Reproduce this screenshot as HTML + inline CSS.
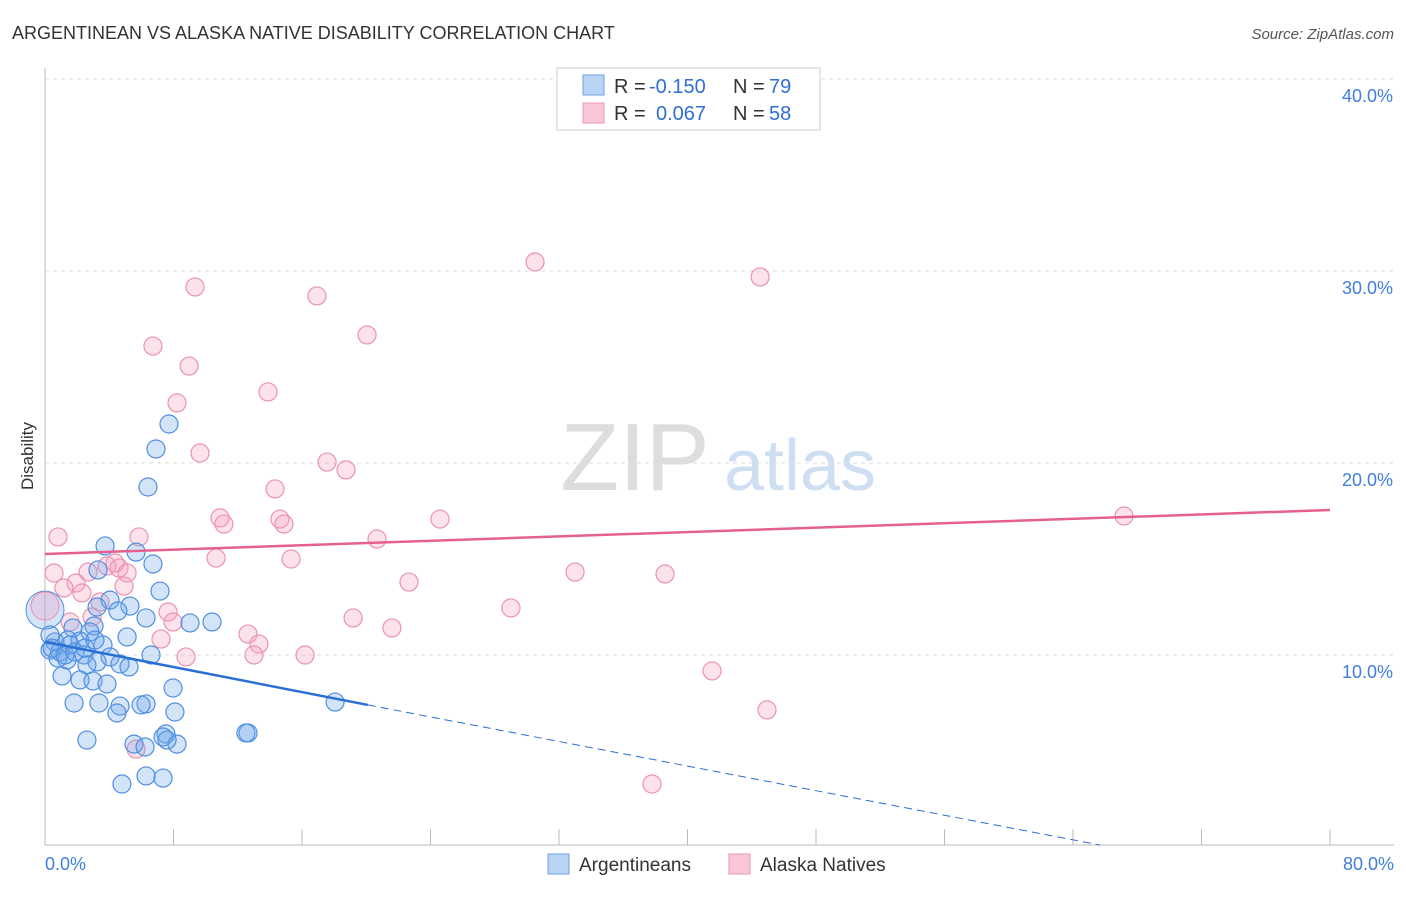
<!DOCTYPE html>
<html><head><meta charset="utf-8"><style>
body{margin:0;background:#fff;font-family:"Liberation Sans",sans-serif;}
svg text{font-family:"Liberation Sans",sans-serif;}
</style></head><body>
<svg id="chart" width="1406" height="892" viewBox="0 0 1406 892" xmlns="http://www.w3.org/2000/svg">
<text x="12" y="39" font-size="18" fill="#333">ARGENTINEAN VS ALASKA NATIVE DISABILITY CORRELATION CHART</text>
<text x="1394" y="39" font-size="15" fill="#555" font-style="italic" text-anchor="end">Source: ZipAtlas.com</text>
<text x="33" y="456" font-size="17" fill="#333" transform="rotate(-90 33 456)" text-anchor="middle">Disability</text>
<g><text x="635" y="490" font-size="96" fill="#ddd" font-family="Liberation Serif" text-anchor="middle">ZIP</text><text x="800" y="490" font-size="72" fill="#cfdff3" text-anchor="middle">atlas</text></g>
<g id="grid"></g><g id="axes"></g><g id="pts"></g><g id="trends"></g>
<g>
<rect x="557" y="68" width="263" height="62" fill="#fff" stroke="#ccc"/>
<rect x="583" y="75" width="21" height="20" fill="#b8d3f3" stroke="#6fa2e3"/>
<rect x="583" y="103" width="21" height="20" fill="#f9c6d6" stroke="#ec97b3"/>
<text x="614" y="93" font-size="20" fill="#333">R =</text>
<text x="649" y="93" font-size="20" fill="#2f6fd6">-0.150</text>
<text x="733" y="93" font-size="20" fill="#333">N =</text>
<text x="769" y="93" font-size="20" fill="#2f6fd6">79</text>
<text x="614" y="120" font-size="20" fill="#333">R =</text>
<text x="656" y="120" font-size="20" fill="#2f6fd6">0.067</text>
<text x="733" y="120" font-size="20" fill="#333">N =</text>
<text x="769" y="120" font-size="20" fill="#2f6fd6">58</text>
</g>
<g>
<rect x="548" y="854" width="21" height="20" fill="#b8d3f3" stroke="#6fa2e3"/>
<text x="579" y="871" font-size="19" fill="#333">Argentineans</text>
<rect x="729" y="854" width="21" height="20" fill="#f9c6d6" stroke="#ec97b3"/>
<text x="760" y="871" font-size="19" fill="#333">Alaska Natives</text>
</g>
</svg>
<script>
const yTicks=[10,20,30,40];
const yTickLabels=["10.0%","20.0%","30.0%","40.0%"];
const xTickLabels=["0.0%","80.0%"];
const blueX=[7.72,6.91,6.41,3.74,5.67,6.72,3.30,7.16,4.05,5.29,3.24,4.54,6.29,10.40,9.03,3.05,1.74,2.80,5.11,1.43,2.18,0.62,1.56,3.61,0.31,0.93,2.43,6.60,4.05,1.37,3.24,4.67,5.23,2.61,1.06,7.97,2.18,2.99,3.86,18.06,1.81,3.36,4.67,6.29,5.98,8.09,4.48,12.64,7.53,7.35,2.61,5.54,6.23,8.22,7.60,6.29,7.35,4.79,0.31,0.44,0.81,1.25,1.87,2.49,3.11,12.51];
const blueY=[22.03,20.73,18.75,15.68,15.36,14.74,14.43,13.33,12.86,12.55,12.50,12.29,11.93,11.72,11.67,11.51,11.41,11.20,10.94,10.78,10.73,10.68,10.52,10.52,10.26,10.16,10.00,10.00,9.90,9.74,9.64,9.53,9.38,9.48,8.91,8.28,8.70,8.65,8.49,7.55,7.50,7.50,7.34,7.45,7.40,7.03,6.98,5.94,5.89,5.73,5.57,5.36,5.21,5.36,5.57,3.70,3.59,3.28,11.04,10.36,9.84,10.00,10.16,10.36,10.78,5.94];
const pinkX=[30.51,44.52,9.34,16.93,20.05,6.72,8.97,13.88,8.22,9.65,17.56,18.74,14.32,10.90,11.14,14.63,14.88,24.59,67.18,0.81,5.85,20.67,10.65,15.32,0.56,2.68,3.86,4.61,5.11,33.00,38.60,22.66,1.93,1.18,4.92,2.30,29.01,7.66,19.18,7.97,2.93,21.60,12.64,7.22,13.32,13.01,16.19,8.78,41.53,44.95,37.79,5.67,3.42,4.36,1.56];
const pinkY=[30.47,29.69,29.17,28.70,26.67,26.09,25.05,23.70,23.13,20.52,20.05,19.64,18.65,17.14,16.82,17.08,16.82,17.08,17.24,16.15,16.15,16.04,15.05,15.00,14.27,14.32,14.64,14.53,14.27,14.32,14.22,13.80,13.75,13.49,13.59,13.23,12.45,12.24,11.93,11.72,11.98,11.41,11.09,10.83,10.57,10.00,10.00,9.90,9.17,7.14,3.28,5.10,12.76,14.79,11.72];
const bigBlue=[0,12.34];
const bigPink=[0,12.55];
const pinkTrend=[[0,15.26],[80,17.55]];
const blueTrend=[[0,10.68],[20.1,7.40],[65.7,0.1]];

const NS="http://www.w3.org/2000/svg";
const xs=v=>45+v/80*1285;
const ys=v=>847-v*19.2;
function mk(tag,attrs,parent){const e=document.createElementNS(NS,tag);for(const k in attrs)e.setAttribute(k,attrs[k]);document.getElementById(parent).appendChild(e);return e;}
yTicks.forEach((t,i)=>{
  const l=mk('line',{x1:45,x2:1394,y1:ys(t),y2:ys(t),stroke:'#ddd','stroke-dasharray':'4,4'},'grid');
  
  
  const tx=mk('text',{x:1393,y:ys(t)+23,'font-size':18,fill:'#3f7fe0','text-anchor':'end'},'grid');
  tx.textContent=yTickLabels[i];
  
  
});
const topLine=mk('line',{x1:45,x2:1394,y1:79,y2:79,stroke:'#ddd','stroke-dasharray':'4,4'},'grid');


const ax=mk('line',{x1:45,x2:45,y1:68,y2:845,stroke:'#bbb'},'axes');


const bx=mk('line',{x1:45,x2:1394,y1:845,y2:845,stroke:'#bbb'},'axes');


for(let i=0;i<=10;i++){
  const t=mk('line',{x1:xs(i*8),x2:xs(i*8),y1:829,y2:845,stroke:'#bbb'},'axes');
  
  
}
[[0,'start',45],[80,'end',1394]].forEach((d,i)=>{
  const t=mk('text',{x:d[2],y:870,'font-size':18,fill:'#3f7fe0','text-anchor':d[1]},'axes');
  t.textContent=xTickLabels[i];
  
  
});
function pts(X,Y,fill,stroke,name){
  X.forEach((x,i)=>{
    const c=mk('circle',{cx:xs(x),cy:ys(Y[i]),r:9,fill:fill,stroke:stroke,'stroke-width':1.2},'pts');
    
    
  });
}
pts(pinkX,pinkY,'rgba(244,160,188,0.3)','#eb92b0','alaska-native-point');
pts(blueX,blueY,'rgba(110,165,235,0.3)','#4f8fe0','argentinean-point');
const bb=mk('circle',{cx:xs(bigBlue[0]),cy:ys(bigBlue[1]),r:19,fill:'rgba(110,165,235,0.3)',stroke:'#4f8fe0'},'pts');


const bp=mk('circle',{cx:xs(bigPink[0]),cy:ys(bigPink[1]),r:14,fill:'rgba(244,160,188,0.3)',stroke:'#eb92b0'},'pts');


const pl=mk('line',{x1:xs(pinkTrend[0][0]),y1:ys(pinkTrend[0][1]),x2:xs(pinkTrend[1][0]),y2:ys(pinkTrend[1][1]),stroke:'#e6608f','stroke-width':2.5},'trends');


const bl=mk('line',{x1:xs(blueTrend[0][0]),y1:ys(blueTrend[0][1]),x2:xs(blueTrend[1][0]),y2:ys(blueTrend[1][1]),stroke:'#2a6fd6','stroke-width':2.5},'trends');


const bd=mk('line',{x1:xs(blueTrend[1][0]),y1:ys(blueTrend[1][1]),x2:xs(blueTrend[2][0]),y2:ys(blueTrend[2][1]),stroke:'#2a6fd6','stroke-width':1,'stroke-dasharray':'8,5'},'trends');


</script>
</body></html>
